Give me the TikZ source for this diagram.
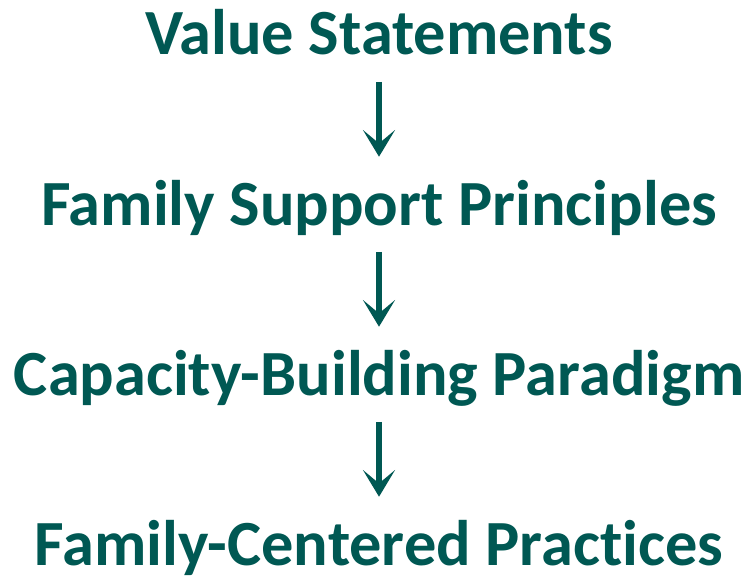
\documentclass[tikz,border=0pt]{standalone}
\usepackage{fontspec}
\setmainfont{Carlito}[Ligatures={NoCommon,NoRare,NoContextual}]
\usepackage{tikz}
\usetikzlibrary{
        arrows.meta,
        positioning
    }
\definecolor{deepteal}{RGB}{0,88,83}
\tikzset{shorten >=1pt,node distance=127.5pt}
\tikzset{heading/.style={font=\fontsize{48.3}{52}\selectfont\bfseries,text=deepteal,
        text height=30pt,text depth=0pt,inner sep=20pt}}
\tikzset{flow/.style={draw=deepteal,line width=4pt,-{Stealth[length=20pt,width=24pt,inset=10pt]}}}

\begin{document}
\begin{tikzpicture}[x=0.75pt,y=-0.75pt]
                \useasboundingbox (0,0) rectangle (745,581);
                \node[heading] (val) at (379,35) {Value Statements};
                \node[heading] (fam) [below of=val] {Family Support Principles};
                \node[heading] (cap) [below of=fam] {Capacity-Building Paradigm};
                \node[heading] (prac) [below of=cap] {Family-Centered Practices};
                \draw[flow] (val.south) -- (fam.north);
                \draw[flow] (fam.south) -- (cap.north);
                \draw[flow] (cap.south) -- (prac.north);
            \end{tikzpicture}
\end{document}
